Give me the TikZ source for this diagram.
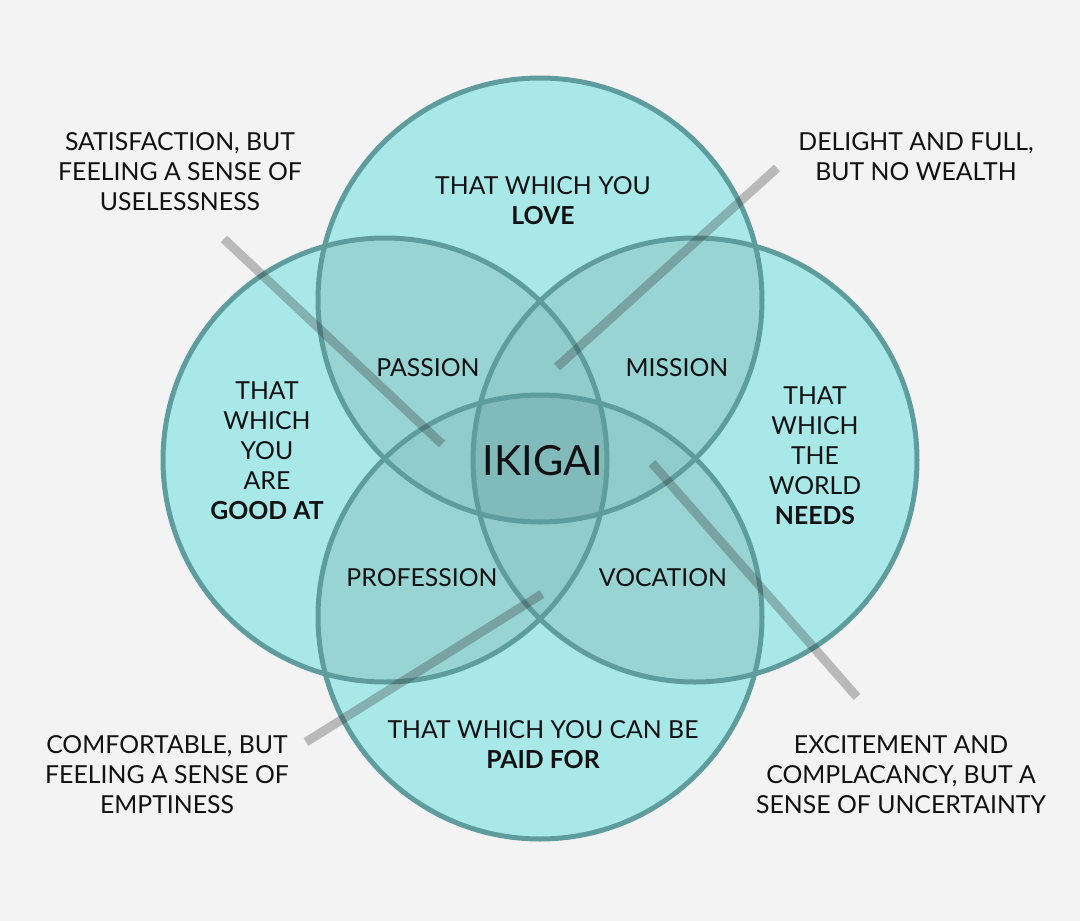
\documentclass[tikz,border=0pt]{standalone}
\usepackage{fontspec}
\setmainfont{Lato}
\definecolor{bg}{RGB}{243,243,243}
\definecolor{cone}{RGB}{169,232,232}
\definecolor{ctwo}{RGB}{152,212,212}
\definecolor{cthree}{RGB}{144,204,204}
\definecolor{cfour}{RGB}{128,186,186}
\definecolor{ring}{RGB}{94,156,158}
\definecolor{ink}{RGB}{17,17,17}
\tikzset{
  ringline/.style={draw=ring, line width=5pt},
  pointer/.style={draw=black!80, line width=9pt, opacity=0.3},
  lbl/.style={align=center, text=ink, font=\fontsize{24.8}{30}\selectfont, inner sep=0pt},
  biglbl/.style={align=center, text=ink, font=\fontsize{41.5}{48}\selectfont, inner sep=0pt},
}
\begin{document}
\begin{tikzpicture}[x=1pt,y=-1pt]
\fill[bg] (0,0) rectangle (1080,921);
\useasboundingbox (0,0) rectangle (1080,921);
\coordinate (T) at (540,300);
\coordinate (B) at (540,617);
\coordinate (L) at (385,460);
\coordinate (R) at (695,460);
\def\rr{222pt}
% single
\foreach \c in {T,B,L,R} \fill[cone] (\c) circle[radius=\rr];
% pairs
\foreach \a/\b in {T/L,T/R,B/L,B/R,L/R,T/B}{
  \begin{scope}\clip (\a) circle[radius=\rr]; \fill[ctwo] (\b) circle[radius=\rr];\end{scope}
}
% triples
\foreach \a/\b/\c in {T/L/R,B/L/R,T/B/L,T/B/R}{
  \begin{scope}\clip (\a) circle[radius=\rr]; \clip (\b) circle[radius=\rr]; \fill[cthree] (\c) circle[radius=\rr];\end{scope}
}
% quad
\begin{scope}\clip (T) circle[radius=\rr]; \clip (B) circle[radius=\rr]; \clip (L) circle[radius=\rr]; \fill[cfour] (R) circle[radius=\rr];\end{scope}
% rings
\foreach \c in {T,B,L,R} \draw[ringline] (\c) circle[radius=\rr];
% pointer lines
\coordinate (p1a) at (224,239); \coordinate (p1b) at (442,444);
\coordinate (p2a) at (777,168); \coordinate (p2b) at (557,367);
\coordinate (p3a) at (306,742); \coordinate (p3b) at (542,594);
\coordinate (p4a) at (652,463); \coordinate (p4b) at (857,697);
\draw[pointer] (p1a) -- (p1b);
\draw[pointer] (p2a) -- (p2b);
\draw[pointer] (p3a) -- (p3b);
\draw[pointer] (p4a) -- (p4b);
% labels
\node[lbl] (love) at (543,201) {THAT WHICH YOU\\\textbf{LOVE}};
\node[lbl] (good) at (267,451) {THAT\\WHICH\\YOU\\ARE\\\textbf{GOOD AT}};
\node[lbl] (needs) at (815,456) {THAT\\WHICH\\THE\\WORLD\\\textbf{NEEDS}};
\node[lbl] (paid) at (543,745) {THAT WHICH YOU CAN BE\\\textbf{PAID FOR}};
\node[lbl] (passion) at (428,368) {PASSION};
\node[lbl] (mission) at (677,368) {MISSION};
\node[lbl] (profession) at (422,578) {PROFESSION};
\node[lbl] (vocation) at (663,578) {VOCATION};
\node[biglbl] (ikigai) at (543,461) {IKIGAI};
\node[lbl] (sat) at (180,172) {SATISFACTION, BUT\\FEELING A SENSE OF\\USELESSNESS};
\node[lbl] (del) at (916,157) {DELIGHT AND FULL,\\BUT NO WEALTH};
\node[lbl] (com) at (167,775) {COMFORTABLE, BUT\\FEELING A SENSE OF\\EMPTINESS};
\node[lbl] (exc) at (901,775) {EXCITEMENT AND\\COMPLACANCY, BUT A\\SENSE OF UNCERTAINTY};
\end{tikzpicture}
\end{document}
